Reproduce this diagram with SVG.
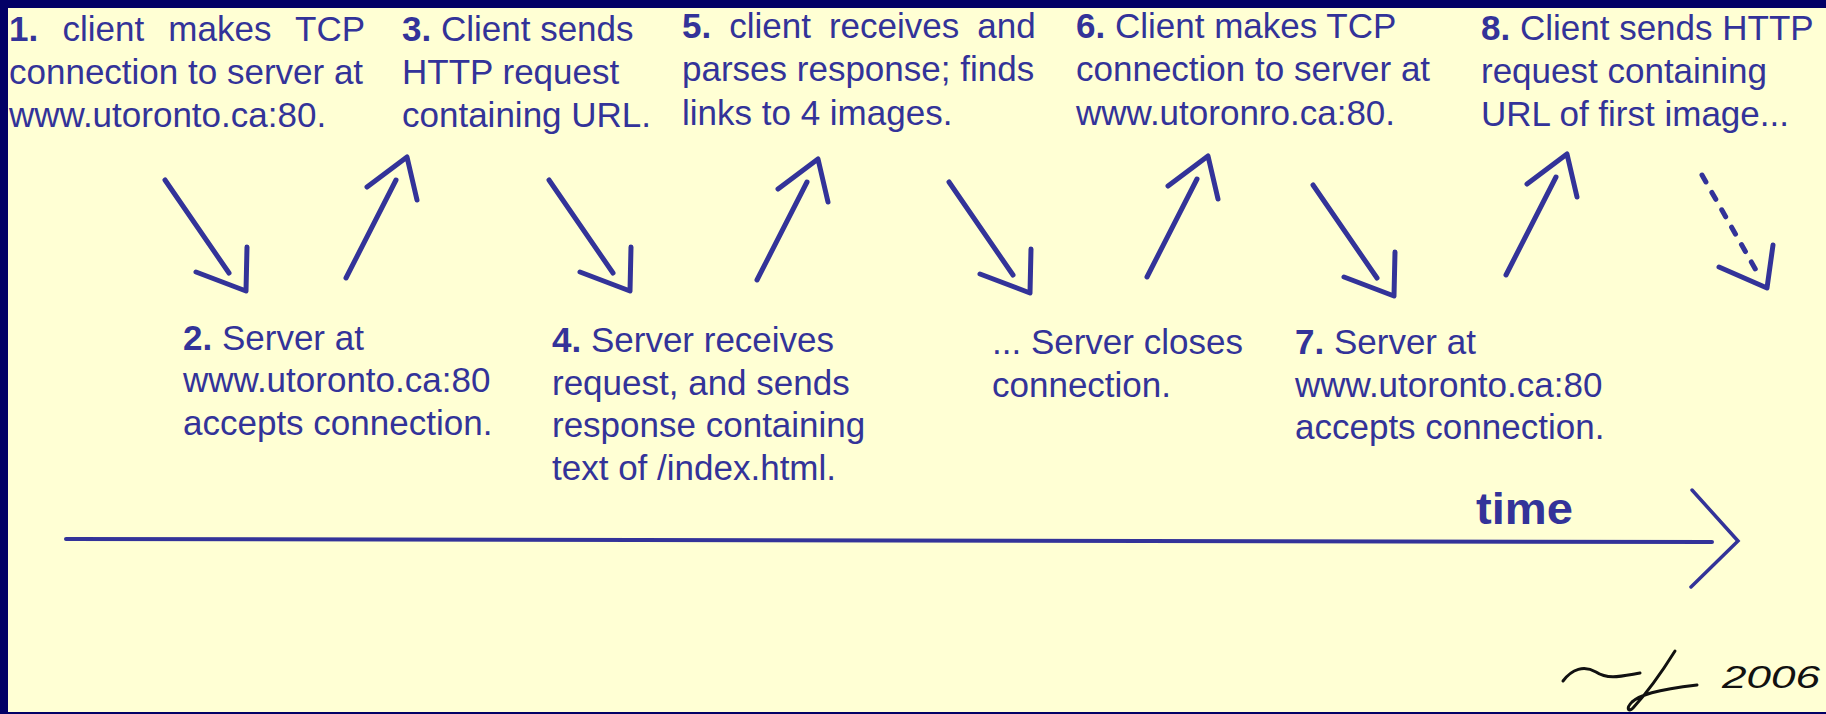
<svg xmlns="http://www.w3.org/2000/svg" xmlns:xlink="http://www.w3.org/1999/xlink" width="1826" height="714" viewBox="0 0 1826 714">
<style>
  .t { font-family: "Liberation Sans", Arial, sans-serif; font-size: 35px; fill: #333399; }
  .b { font-weight: bold; }
  .pen { fill: none; stroke: #333399; stroke-width: 5; stroke-linecap: round; stroke-linejoin: round; }
  .axis { fill: none; stroke: #333399; stroke-width: 4; stroke-linecap: round; }
  .chev { fill: none; stroke: #333399; stroke-width: 3.5; stroke-linecap: round; stroke-linejoin: miter; }
  .sig { fill: none; stroke: #111111; stroke-width: 3; stroke-linecap: round; stroke-linejoin: round; }
</style>
<defs>
  <g id="down">
    <path class="pen" d="M0,0 L64,93"/>
    <path class="pen" d="M31,92 L81,111 L82,67"/>
  </g>
  <g id="up">
    <path class="pen" d="M0,0 L50,-98"/>
    <path class="pen" d="M21,-91 L61,-121 L71,-78"/>
  </g>
</defs>
<rect x="0" y="0" width="1826" height="714" fill="#020066"/>
<rect x="8" y="8" width="1818" height="704" fill="#FFFFD4"/>

<g id="step1">
  <text class="t" x="9" y="41" word-spacing="14.5"><tspan class="b">1.</tspan> client makes TCP</text>
  <text class="t" x="9" y="84">connection to server at</text>
  <text class="t" x="9" y="127">www.utoronto.ca:80.</text>
</g>
<g id="step2">
  <text class="t" x="183" y="350"><tspan class="b">2.</tspan> Server at</text>
  <text class="t" x="183" y="392">www.utoronto.ca:80</text>
  <text class="t" x="183" y="435">accepts connection.</text>
</g>
<g id="step3">
  <text class="t" x="402" y="41"><tspan class="b">3.</tspan> Client sends</text>
  <text class="t" x="402" y="84">HTTP request</text>
  <text class="t" x="402" y="127">containing URL.</text>
</g>
<g id="step4">
  <text class="t" x="552" y="352"><tspan class="b">4.</tspan> Server receives</text>
  <text class="t" x="552" y="395">request, and sends</text>
  <text class="t" x="552" y="437">response containing</text>
  <text class="t" x="552" y="480">text of /index.html.</text>
</g>
<g id="step5">
  <text class="t" x="682" y="38" word-spacing="8.3"><tspan class="b">5.</tspan> client receives and</text>
  <text class="t" x="682" y="81">parses response; finds</text>
  <text class="t" x="682" y="125">links to 4 images.</text>
</g>
<g id="close">
  <text class="t" x="992" y="354">... Server closes</text>
  <text class="t" x="992" y="397">connection.</text>
</g>
<g id="step6">
  <text class="t" x="1076" y="38"><tspan class="b">6.</tspan> Client makes TCP</text>
  <text class="t" x="1076" y="81">connection to server at</text>
  <text class="t" x="1076" y="125">www.utoronro.ca:80.</text>
</g>
<g id="step7">
  <text class="t" x="1295" y="354"><tspan class="b">7.</tspan> Server at</text>
  <text class="t" x="1295" y="397">www.utoronto.ca:80</text>
  <text class="t" x="1295" y="439">accepts connection.</text>
</g>
<g id="step8">
  <text class="t" x="1481" y="40"><tspan class="b">8.</tspan> Client sends HTTP</text>
  <text class="t" x="1481" y="83">request containing</text>
  <text class="t" x="1481" y="126">URL of first image...</text>
</g>

<g id="connectors">
  <use xlink:href="#down" href="#down" x="165" y="180"/>
  <use xlink:href="#up" href="#up" x="346" y="278"/>
  <use xlink:href="#down" href="#down" x="549" y="180"/>
  <use xlink:href="#up" href="#up" x="757" y="280"/>
  <use xlink:href="#down" href="#down" x="949" y="182"/>
  <use xlink:href="#up" href="#up" x="1147" y="277"/>
  <use xlink:href="#down" href="#down" x="1313" y="185"/>
  <use xlink:href="#up" href="#up" x="1506" y="275"/>
  <path class="pen" d="M1702,175 L1757,272" stroke-dasharray="8 12" stroke-linecap="butt"/>
  <path class="pen" d="M1719,267 L1767,288 L1773,245"/>
</g>

<g id="timeline">
  <path class="axis" d="M66,539 L1712,542"/>
  <path class="chev" d="M1692,490 L1738,541 L1691,587"/>
  <text class="t b" x="1476" y="524" style="font-size:45px" textLength="97" lengthAdjust="spacingAndGlyphs">time</text>
</g>

<g id="signature">
  <path class="sig" d="M1563,681 C1572,669 1584,665 1596,672 C1608,680 1622,676 1640,673"/>
  <path class="sig" d="M1675,651 C1660,675 1645,695 1633,708 C1628,713 1626,708 1632,702 C1640,695 1655,690 1697,685"/>
  <text x="1722" y="688" style="font-family:'Liberation Sans', Arial, sans-serif; font-style:italic; font-size:32px; fill:#111111" textLength="98" lengthAdjust="spacingAndGlyphs">2006</text>
</g>
</svg>
